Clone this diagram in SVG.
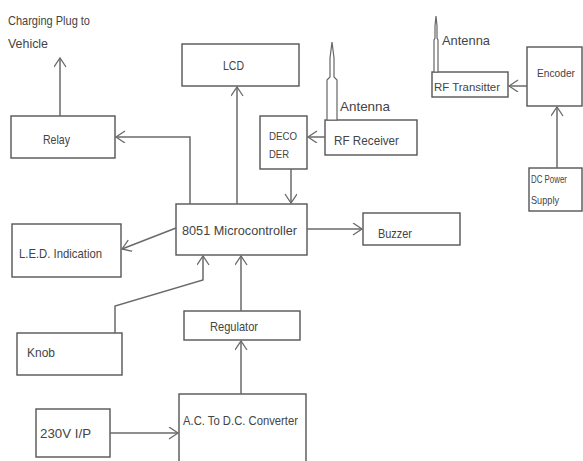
<svg xmlns="http://www.w3.org/2000/svg" width="583" height="461" viewBox="0 0 583 461">
<defs>
<marker id="arr" markerUnits="userSpaceOnUse" markerWidth="14" markerHeight="14" refX="10" refY="6" orient="auto">
<path d="M1,0 L10,6 L1,12" fill="none" stroke="#6a6a6a" stroke-width="1.3"/>
</marker>
<style>
.box{fill:#fff;stroke:#555;stroke-width:1.4}
.t{font-family:"Liberation Sans",Arial,sans-serif;font-size:13px;fill:#444}
.s{font-size:11.5px}
.c{fill:none;stroke:#6a6a6a;stroke-width:1.5;marker-end:url(#arr)}
.ant{fill:#fff;stroke:#666;stroke-width:1.2}
</style>
</defs>
<rect width="583" height="461" fill="#fff"/>

<g id="charging-label">
<text class="t" x="8" y="25" textLength="82" lengthAdjust="spacingAndGlyphs">Charging Plug to</text>
<text class="t" x="8" y="48" textLength="40" lengthAdjust="spacingAndGlyphs">Vehicle</text>
</g>
<g id="relay"><rect class="box" x="11" y="116" width="104" height="42"/><text class="t" x="43" y="144" textLength="27" lengthAdjust="spacingAndGlyphs">Relay</text></g>
<g id="lcd"><rect class="box" x="182" y="44" width="117" height="42"/><text class="t" x="223" y="70" textLength="21" lengthAdjust="spacingAndGlyphs">LCD</text></g>
<g id="decoder"><rect class="box" x="260" y="116" width="47" height="53"/>
<text class="t s" x="269" y="140" textLength="28" lengthAdjust="spacingAndGlyphs">DECO</text>
<text class="t s" x="269" y="158" textLength="20" lengthAdjust="spacingAndGlyphs">DER</text></g>
<g id="rf-receiver"><rect class="box" x="325" y="120" width="92" height="35"/><text class="t" x="334" y="145" textLength="65" lengthAdjust="spacingAndGlyphs">RF Receiver</text></g>
<g id="antenna-rx">
<polygon class="ant" points="327,120 327,80 330,77 330,58 332,42 334,58 334,77 337,80 337,120"/>
<text class="t" x="340" y="111" textLength="50" lengthAdjust="spacingAndGlyphs">Antenna</text></g>
<g id="mcu"><rect class="box" x="176" y="204" width="131" height="51"/><text class="t" x="182" y="235" textLength="115" lengthAdjust="spacingAndGlyphs">8051 Microcontroller</text></g>
<g id="buzzer"><rect class="box" x="363" y="213" width="97" height="32"/><text class="t" x="378" y="238" textLength="34" lengthAdjust="spacingAndGlyphs">Buzzer</text></g>
<g id="led"><rect class="box" x="12" y="224" width="109" height="53"/><text class="t" x="19" y="258" textLength="83" lengthAdjust="spacingAndGlyphs">L.E.D. Indication</text></g>
<g id="knob"><rect class="box" x="17" y="333" width="105" height="42"/><text class="t" x="27" y="357" textLength="28" lengthAdjust="spacingAndGlyphs">Knob</text></g>
<g id="regulator"><rect class="box" x="184" y="311" width="116" height="29"/><text class="t" x="210" y="331" textLength="48" lengthAdjust="spacingAndGlyphs">Regulator</text></g>
<g id="converter"><rect class="box" x="179" y="394" width="127" height="80"/><text class="t" x="183" y="425" textLength="115" lengthAdjust="spacingAndGlyphs">A.C. To D.C. Converter</text></g>
<g id="input"><rect class="box" x="36" y="409" width="74" height="48"/><text class="t" x="40" y="438" textLength="51" lengthAdjust="spacingAndGlyphs">230V I/P</text></g>
<g id="rf-transmitter"><rect class="box" x="432" y="72" width="76" height="25"/><text class="t s" x="434" y="91" textLength="66" lengthAdjust="spacingAndGlyphs">RF Transitter</text></g>
<g id="antenna-tx">
<polygon class="ant" points="434,72 434,40 435,38 435,26 436,16 437,26 437,38 438,40 438,72"/>
<text class="t" x="442" y="45" textLength="48" lengthAdjust="spacingAndGlyphs">Antenna</text></g>
<g id="encoder"><rect class="box" x="527" y="47" width="55" height="59"/><text class="t s" x="537" y="77" textLength="38" lengthAdjust="spacingAndGlyphs">Encoder</text></g>
<g id="dc-power"><rect class="box" x="529" y="168" width="53" height="43"/>
<text class="t s" x="531" y="183" textLength="36" lengthAdjust="spacingAndGlyphs">DC Power</text>
<text class="t s" x="531" y="204" textLength="28" lengthAdjust="spacingAndGlyphs">Supply</text></g>

<g id="connectors">
<polyline class="c" points="190,204 190,137 116,137"/>
<polyline class="c" points="60,116 60,58"/>
<polyline class="c" points="237,204 237,87"/>
<polyline class="c" points="325,137 308,137"/>
<polyline class="c" points="291,169 291,203"/>
<polyline class="c" points="307,229 362,229"/>
<polyline class="c" points="176,228 122,249"/>
<polyline class="c" points="115,333 115,306 203,280 203,256"/>
<polyline class="c" points="241,311 241,256"/>
<polyline class="c" points="241,394 241,341"/>
<polyline class="c" points="110,433 178,433"/>
<polyline class="c" points="527,86 509,86"/>
<polyline class="c" points="557,168 557,107"/>
</g>
</svg>
